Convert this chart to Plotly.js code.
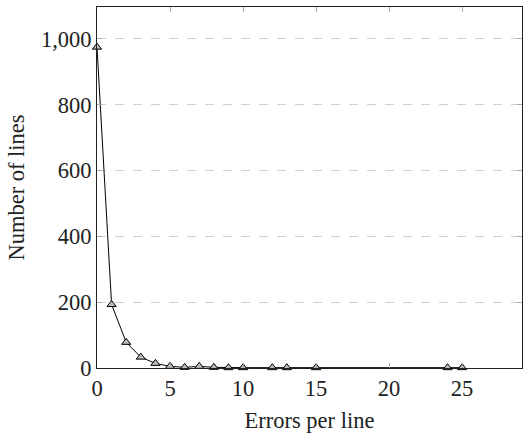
<!DOCTYPE html>
<html>
<head>
<meta charset="utf-8">
<script src="https://cdn.plot.ly/plotly-3.0.1.min.js"></script>
<style>html,body{margin:0;padding:0;background:#fff;}#chart{width:523px;height:436px;}</style>
</head>
<body>
<div id="chart"></div>
<script>
const errorsPerLine = [0, 1, 2, 3, 4, 5, 6, 7, 8, 9, 10, 12, 13, 15, 24, 25];
const numberOfLines = [975, 193, 78, 33, 14, 5, 2, 5, 2, 1, 1, 1, 1, 1, 1, 1];
const xTicks = [0, 5, 10, 15, 20, 25];
const yTicks = [0, 200, 400, 600, 800, 1000];

const font = {family: 'Liberation Serif, DejaVu Serif, serif', size: 22.5, color: '#222'};

Plotly.newPlot('chart', [{
  x: errorsPerLine,
  y: numberOfLines,
  type: 'scatter',
  mode: 'lines+markers',
  line: {color: '#000', width: 1},
  marker: {symbol: 'triangle-up', size: 8, color: '#bbb', line: {color: '#000', width: 1}},
  cliponaxis: false
}], {
  width: 523, height: 436,
  margin: {l: 97, r: 1, t: 7, b: 68},
  paper_bgcolor: '#fff', plot_bgcolor: '#fff',
  font: font,
  showlegend: false,
  xaxis: {
    range: [0, 29.1],
    tickvals: xTicks,
    ticktext: xTicks.map(String),
    ticks: 'inside', ticklen: 5, tickcolor: '#aaa', tickwidth: 1,
    showline: true, linecolor: '#222', linewidth: 1, mirror: 'ticks',
    showgrid: false, zeroline: false,
    tickfont: font,
    title: {text: 'Errors per line', font: font, standoff: 12}
  },
  yaxis: {
    range: [0, 1097],
    tickvals: yTicks,
    ticktext: yTicks.map(v => v.toLocaleString('en-US')),
    ticks: 'inside', ticklen: 5, tickcolor: '#aaa', tickwidth: 1,
    showline: true, linecolor: '#222', linewidth: 1, mirror: 'ticks',
    showgrid: true, gridcolor: '#d0d0d0', griddash: 'dash', gridwidth: 1,
    zeroline: false,
    tickfont: font,
    title: {text: 'Number of lines', font: font, standoff: 10}
  }
}, {staticPlot: true});
</script>
</body>
</html>
